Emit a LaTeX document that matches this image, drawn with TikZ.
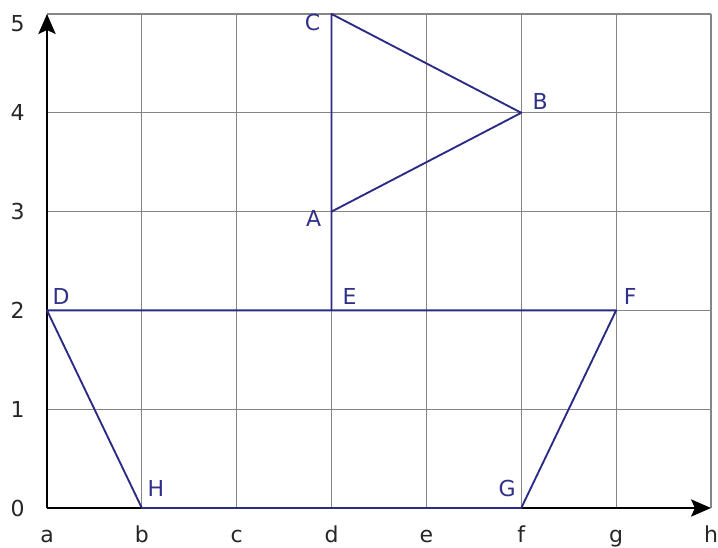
\documentclass[tikz,border=0pt]{standalone}
\usepackage{fontspec}
\setmainfont{DejaVu Sans}
\usetikzlibrary{arrows.meta}
\definecolor{navy}{HTML}{2B2B85}
\definecolor{lblue}{HTML}{30308A}
\definecolor{gridgray}{HTML}{858585}
\tikzset{
  gridline/.style={draw=gridgray, line width=0.8pt},
  axis/.style={draw=black, line width=1.1pt, -{Stealth[length=15pt,width=13pt,inset=3pt]}},
  figline/.style={draw=navy, line width=1.4pt, line join=round},
  ptlabel/.style={text=lblue, font=\fontsize{16.5}{19}\selectfont, inner sep=0pt},
  ticklabel/.style={text=black!85, font=\fontsize{16.5}{19}\selectfont, inner sep=0pt}
}
\begin{document}
\begin{tikzpicture}[x=71.14pt, y=74.1pt]
\useasboundingbox (-35.25pt,-29.25pt) rectangle (503.25pt,381pt);
% grid
\foreach \i in {1,...,7} \draw[gridline] (\i,0) -- (\i,5);
\foreach \j in {1,...,5} \draw[gridline] (0,\j) -- (7,\j);
% points
\coordinate (A) at (3,3);
\coordinate (B) at (5,4);
\coordinate (C) at (3,5);
\coordinate (D) at (0,2);
\coordinate (E) at (3,2);
\coordinate (F) at (6,2);
\coordinate (G) at (5,0);
\coordinate (H) at (1,0);
\coordinate (O) at (0,0);
\coordinate (XE) at (7,0);
\coordinate (YE) at (0,5);
% axes
\draw[axis] (O) -- (XE);
\draw[axis] (O) -- (YE);
% figure
\draw[figline] (D) -- (F) -- (G) -- (H) -- cycle;
\draw[figline] (E) -- (C) -- (B) -- (A);
% point labels
\node[ptlabel] (lA) at ([shift={(-13.5pt,-5.25pt)}]A) {A};
\node[ptlabel] (lB) at ([shift={(14.25pt,8.25pt)}]B) {B};
\node[ptlabel] (lC) at ([shift={(-14.25pt,-6pt)}]C) {C};
\node[ptlabel] (lD) at ([shift={(10.5pt,10.5pt)}]D) {D};
\node[ptlabel] (lE) at ([shift={(13.5pt,10.5pt)}]E) {E};
\node[ptlabel] (lF) at ([shift={(10.5pt,10.5pt)}]F) {F};
\node[ptlabel] (lG) at ([shift={(-10.5pt,15pt)}]G) {G};
\node[ptlabel] (lH) at ([shift={(10.5pt,15pt)}]H) {H};
% y tick labels
\foreach \j in {0,...,4} \node[ticklabel] (ty\j) at ([xshift=-22pt]0,\j) {\j};
\node[ticklabel] (ty5) at ([xshift=-22pt,yshift=-7.5pt]0,5) {5};
% x tick labels
\foreach \l [count=\i from 0] in {a,b,c,d,e,f,g,h}
  \node[ticklabel, anchor=base] (tx\l) at ([yshift=-25.5pt]\i,0) {\l};
\end{tikzpicture}
\end{document}
